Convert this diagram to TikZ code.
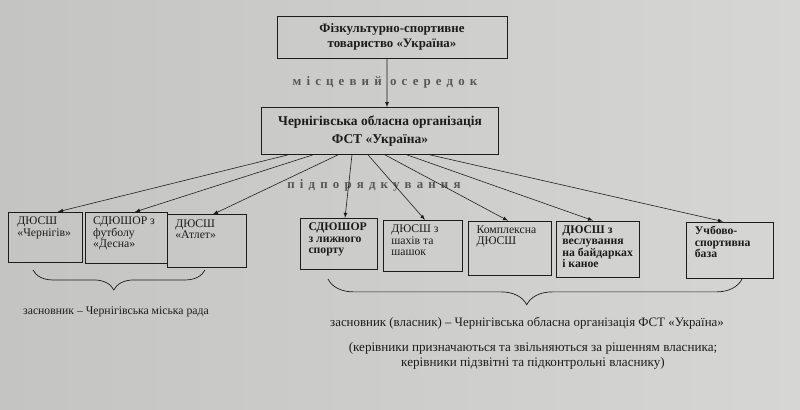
\documentclass[tikz,border=0pt]{standalone}
\usepackage{fontspec}
\setmainfont{Liberation Serif}
\usetikzlibrary{decorations.pathreplacing}
\definecolor{paperdark}{RGB}{196,196,194}
\definecolor{paperlight}{RGB}{214,214,212}
\definecolor{ink}{RGB}{28,28,28}
\definecolor{faint}{RGB}{88,88,88}
\newcommand{\celltext}[3]{\parbox[c][#2][t]{#1}{\raggedright #3}}

\begin{document}
\begin{tikzpicture}[x=0.03cm, y=-0.03cm,
    head/.style={draw=ink, line width=.6pt, text=ink, align=center, inner sep=2pt},
    unit/.style={draw=ink, line width=.6pt, text=ink, inner xsep=7pt, inner ysep=4pt,
      font=\fontsize{10}{9.8}\selectfont},
    link/.style={-latex, draw=ink, line width=.5pt},
    spaced/.style={text=faint, inner sep=0pt,
      font=\bfseries\fontsize{11}{12}\selectfont\addfontfeatures{LetterSpace=40}},
    clamp/.style={decorate, draw=ink, line width=.6pt},
    note/.style={text=ink, inner sep=0pt, align=center}]

      \useasboundingbox (0, 0) rectangle (800, 409);
      \shade[left color=paperdark, right color=paperlight](0, 0) rectangle (800, 409);

      % upper levels
      \node[head, minimum width=6.9cm, minimum height=1.26cm,
        font=\bfseries\fontsize{11}{13}\selectfont] at(392, 37)(top){Фізкультурно-спортивне\\товариство «Україна»};
      \node[head, minimum width=7.1cm, minimum height=1.41cm,
        font=\bfseries\fontsize{11.5}{15}\selectfont] at(380, 131)(org){Чернігівська обласна організація\\ФСТ «Україна»};
      \node[spaced] at(385, 82)(cell){місцевий осередок};
      \node[spaced] at(374, 185)(sub){підпорядкування};
      \draw[link]([xshift=-.15cm]top.south) to ([xshift=.21cm]org.north);

      % schools of the city council
      \node[unit, inner xsep=8pt] at(45, 237)(chern){\celltext{47pt}{34.5pt}{ДЮСШ\\«Чернігів»}};
      \node[unit] at(126, 238)(desna){\celltext{56pt}{36pt}{СДЮШОР з\\футболу\\«Десна»}};
      \node[unit] at(207, 241)(atlet){\celltext{54pt}{37pt}{ДЮСШ\\«Атлет»}};

      % schools of the regional organization
      \node[unit] at(339, 244)(ski){\celltext{52pt}{36pt}{\textbf{СДЮШОР\\з лижного\\спорту}}};
      \node[unit] at(423, 246)(chess){\celltext{54pt}{36pt}{ДЮСШ з\\шахів та\\шашок}};
      \node[unit] at(510, 248)(compl){\celltext{57pt}{38pt}{Комплексна\\ДЮСШ}};
      \node[unit, inner xsep=5pt] at(598, 249)(canoe){\celltext{61pt}{40pt}{\textbf{ДЮСШ з\\веслування\\на байдарках\\і каное}}};
      \node[unit] at(730, 250)(base){\celltext{60pt}{40pt}{\textbf{Учбово-\\спортивна\\база}}};

      \draw[link]([xshift=-2.76cm]org.south) to ([xshift=.39cm]chern.north);
      \draw[link]([xshift=-2.01cm]org.south) to ([xshift=.27cm]desna.north);
      \draw[link]([xshift=-1.26cm]org.south) to ([xshift=.18cm]atlet.north);
      \draw[link]([xshift=-.84cm]org.south) to ([xshift=.18cm]ski.north);
      \draw[link]([xshift=-.36cm]org.south) to ([xshift=.06cm]chess.north);
      \draw[link]([xshift=.15cm]org.south) to ([xshift=-.06cm]compl.north);
      \draw[link]([xshift=.81cm]org.south) to ([xshift=-.15cm]canoe.north);
      \draw[link]([xshift=1.5cm]org.south) to ([xshift=-.21cm]base.north);

      % founders
      \draw[clamp, decoration={brace, mirror, amplitude=17pt, aspect=.47}](33, 270) to (205, 270);
      \draw[clamp, decoration={brace, mirror, amplitude=22pt, aspect=.48}](328, 279) to (742, 279);
      \node[note, font=\fontsize{10}{12}\selectfont] at(116, 312)(city){засновник – Чернігівська міська рада};
      \node[note, font=\fontsize{11}{13}\selectfont] at(527, 323)(owner){засновник (власник) – Чернігівська обласна організація ФСТ «Україна»};
      \node[note, font=\fontsize{11.2}{13}\selectfont] at(533, 356)(rule){(керівники призначаються та звільняються за рішенням власника;\\керівники підзвітні та підконтрольні власнику)};
      \end{tikzpicture}
\end{document}
